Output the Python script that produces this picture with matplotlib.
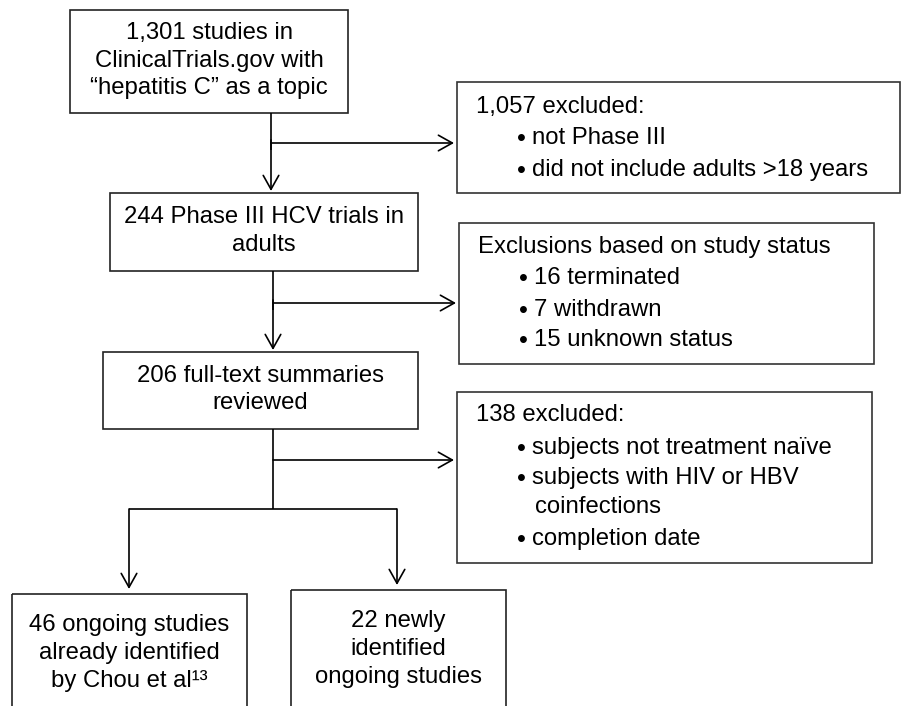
import matplotlib
matplotlib.use("Agg")
import matplotlib.pyplot as plt
from matplotlib.patches import Rectangle, FancyArrowPatch

plt.rcParams['font.family'] = ['Liberation Sans', 'DejaVu Sans']

# ---- content ----
main_texts = [
    "1,301 studies in\nClinicalTrials.gov with\n\u201chepatitis C\u201d as a topic",
    "244 Phase III HCV trials in\nadults",
    "206 full-text summaries\nreviewed",
]
leaf_texts = [
    "46 ongoing studies\nalready identified\nby Chou et al\u00b9\u00b3",
    "22 newly\nidentified\nongoing studies",
]
excl_headers = ["1,057 excluded:", "Exclusions based on study status", "138 excluded:"]
excl_items = [
    ["not Phase III", "did not include adults >18 years"],
    ["16 terminated", "7 withdrawn", "15 unknown status"],
    ["subjects not treatment na\u00efve", "subjects with HIV or HBV\ncoinfections", "completion date"],
]

# ---- layout (pixel coords, y downward) ----
W, H = 901, 706
main_boxes = [(70, 10, 348, 113), (110, 193, 418, 271), (103, 352, 418, 429)]
leaf_boxes = [(12, 594, 247, 720), (291, 590, 506, 720)]
excl_boxes = [(457, 82, 900, 193), (459, 223, 874, 364), (457, 392, 872, 563)]
excl_lines_y = [[107, 138, 170], [247, 278, 310, 340], [415, 448, 478, 539]]
trunk_x = [271, 273, 273]
branch_y = [143, 303, 460]

FS = 17.2
LS = 1.35
LW = 1.2
EC = '#222222'

fig = plt.figure(figsize=(W / 100, H / 100), dpi=100)
ax = fig.add_axes([0, 0, 1, 1])
ax.set_xlim(0, W)
ax.set_ylim(H, 0)
ax.axis('off')


def box(b, ec=EC):
    x0, y0, x1, y1 = b
    ax.add_patch(Rectangle((x0, y0), x1 - x0, y1 - y0, fill=False,
                           edgecolor=ec, linewidth=LW, clip_on=False))


def arrow(p0, p1):
    ax.add_patch(FancyArrowPatch(p0, p1, arrowstyle='->,head_length=0.5,head_width=0.28',
                                 mutation_scale=20, linewidth=LW, color='black',
                                 shrinkA=0, shrinkB=0))


def line(xs, ys):
    ax.plot(xs, ys, color='black', linewidth=LW, solid_capstyle='butt')


# main boxes with centered text
for b, t in zip(main_boxes, main_texts):
    box(b)
    ax.text((b[0] + b[2]) / 2, (b[1] + b[3]) / 2 - 1, t, ha='center', va='center',
            fontsize=FS, linespacing=LS)

# leaf boxes
leaf_text_y = [653, 649]
for b, t, ty in zip(leaf_boxes, leaf_texts, leaf_text_y):
    box(b)
    ax.text((b[0] + b[2]) / 2, ty, t, ha='center', va='center',
            fontsize=FS, linespacing=LS)

# exclusion boxes
for b, hdr, items, ys in zip(excl_boxes, excl_headers, excl_items, excl_lines_y):
    box(b, ec='#333333')
    ax.text(b[0] + 19, ys[0], hdr, ha='left', va='center', fontsize=FS)
    for it, y in zip(items, ys[1:]):
        ax.text(b[0] + 64, y + 1, "\u2022", ha='center', va='center', fontsize=FS + 1)
        lines = it.split("\n")
        ax.text(b[0] + 75, y, lines[0], ha='left', va='center', fontsize=FS)
        for k, extra in enumerate(lines[1:]):
            ax.text(b[0] + 78, y + 29 * (k + 1), extra, ha='left', va='center', fontsize=FS)

# connectors main chain
# box1 -> box2
line([trunk_x[0], trunk_x[0]], [main_boxes[0][3], 150])
arrow((trunk_x[0], 140), (trunk_x[0], main_boxes[1][1] - 2))
arrow((trunk_x[0], branch_y[0]), (excl_boxes[0][0] - 3, branch_y[0]))
# box2 -> box3
line([trunk_x[1], trunk_x[1]], [main_boxes[1][3], 310])
arrow((trunk_x[1], 300), (trunk_x[1], main_boxes[2][1] - 2))
arrow((trunk_x[1], branch_y[1]), (excl_boxes[1][0] - 3, branch_y[1]))
# box3 -> leaves
split_y = 509
line([trunk_x[2], trunk_x[2]], [main_boxes[2][3], split_y])
arrow((trunk_x[2], branch_y[2]), (excl_boxes[2][0] - 3, branch_y[2]))
leaf_x = [129, 397]
line([leaf_x[0], leaf_x[1]], [split_y, split_y])
for lx, b in zip(leaf_x, leaf_boxes):
    arrow((lx, split_y), (lx, b[1] - 5))

fig.savefig("out.png", dpi=100)
